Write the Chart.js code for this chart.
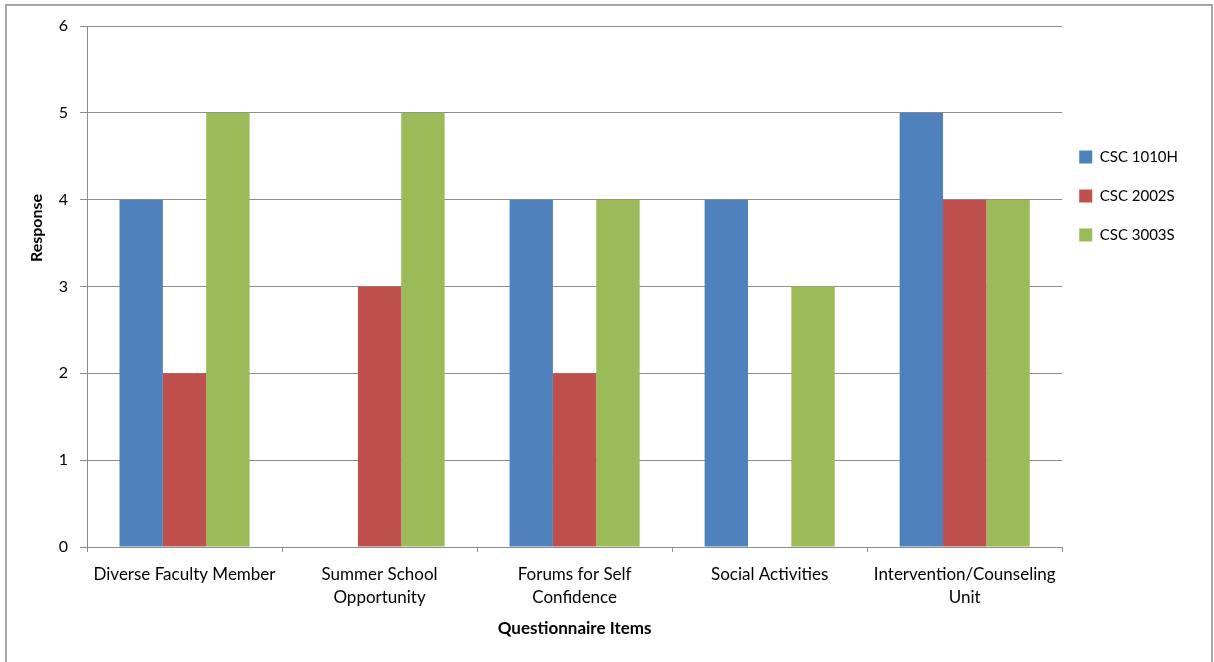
<!DOCTYPE html>
<html>
<head>
<meta charset="utf-8">
<script src="https://cdn.jsdelivr.net/npm/chart.js@4/dist/chart.umd.min.js"></script>
<style>
  body { margin: 0; background: #fff; }
  #frame { position: absolute; left: 5px; top: 4px; width: 1208px; height: 680px; border: 2px solid #a6a6a6; box-sizing: border-box; }
  #wrap { position: absolute; left: 0; top: 0; width: 1214px; height: 662px; }
</style>
</head>
<body>
<div id="frame"></div>
<div id="wrap"><canvas id="chart" width="1214" height="662"></canvas></div>
<script>
// categories (multi-line ones are split like the original wraps them)
const categories = [
    'Diverse Faculty Member',
    ['Summer School', 'Opportunity'],
    ['Forums for Self', 'Confidence'],
    'Social Activities',
    ['Intervention/Counseling', 'Unit']
];
const seriesNames = ['CSC 1010H', 'CSC 2002S', 'CSC 3003S'];
const csc1010H = [4, 0, 4, 4, 5];
const csc2002S = [2, 3, 2, 0, 4];
const csc3003S = [5, 5, 4, 3, 4];
const yTicks = [0, 1, 2, 3, 4, 5, 6];

const colors = ['#4f81bd', '#c0504d', '#9bbb59'];
const gridColor = '#8e8e8e';
const fontFamily = 'Lato, "Open Sans", sans-serif';

// y axis title sits above center in the original, so draw it by hand
const yTitlePlugin = {
    id: 'yTitle',
    afterLayout(chart) {
        // legend sits a bit closer to the plot than chart.js puts it
        chart.legend.left -= 7;
        chart.legend.right -= 7;
    },
    afterDraw(chart) {
        const ctx = chart.ctx;
        ctx.save();
        ctx.translate(37, 228);
        ctx.rotate(-Math.PI / 2);
        ctx.font = 'bold 16px ' + fontFamily;
        ctx.fillStyle = '#000';
        ctx.textAlign = 'center';
        ctx.textBaseline = 'middle';
        ctx.fillText('Response', 0, 0);
        ctx.restore();
    }
};

const ctx = document.getElementById('chart').getContext('2d');
new Chart(ctx, {
    type: 'bar',
    data: {
        labels: categories,
        datasets: [
            { label: seriesNames[0], data: csc1010H, backgroundColor: colors[0] },
            { label: seriesNames[1], data: csc2002S, backgroundColor: colors[1] },
            { label: seriesNames[2], data: csc3003S, backgroundColor: colors[2] }
        ]
    },
    options: {
        responsive: false,
        animation: false,
        layout: { padding: { left: 0, top: 26, right: 19, bottom: 20 } },
        datasets: {
            bar: { categoryPercentage: 0.667, barPercentage: 1.0, borderWidth: 0 }
        },
        scales: {
            x: {
                grid: { display: true, drawOnChartArea: false, drawTicks: true, tickLength: 5, color: gridColor },
                border: { display: true, color: gridColor, width: 1 },
                ticks: { color: '#000', font: { family: fontFamily, size: 17, lineHeight: 1.35 }, padding: 11, maxRotation: 0, autoSkip: false },
                title: {
                    display: true,
                    text: 'Questionnaire Items',
                    color: '#000',
                    font: { family: fontFamily, size: 17, weight: 'bold' },
                    padding: { top: 4, bottom: 3 }
                },
                afterFit(scale) { scale.height = 95; }
            },
            y: {
                min: 0,
                max: 6,
                afterBuildTicks(scale) { scale.ticks = yTicks.map(v => ({ value: v })); },
                grid: { color: gridColor, tickLength: 7, lineWidth: 1 },
                border: { display: true, color: gridColor, width: 1 },
                ticks: { color: '#000', font: { family: fontFamily, size: 16 }, padding: 12 },
                afterFit(scale) { scale.width = 87; }
            }
        },
        plugins: {
            tooltip: { enabled: false },
            legend: {
                position: 'right',
                align: 'start',
                title: { display: true, text: '', font: { size: 10, lineHeight: 1 }, padding: { top: 89.5, bottom: 0 } },
                labels: {
                    color: '#000',
                    font: { family: fontFamily, size: 15 },
                    boxWidth: 13,
                    boxHeight: 13,
                    padding: 24
                }
            }
        }
    },
    plugins: [yTitlePlugin]
});
</script>
</body>
</html>
